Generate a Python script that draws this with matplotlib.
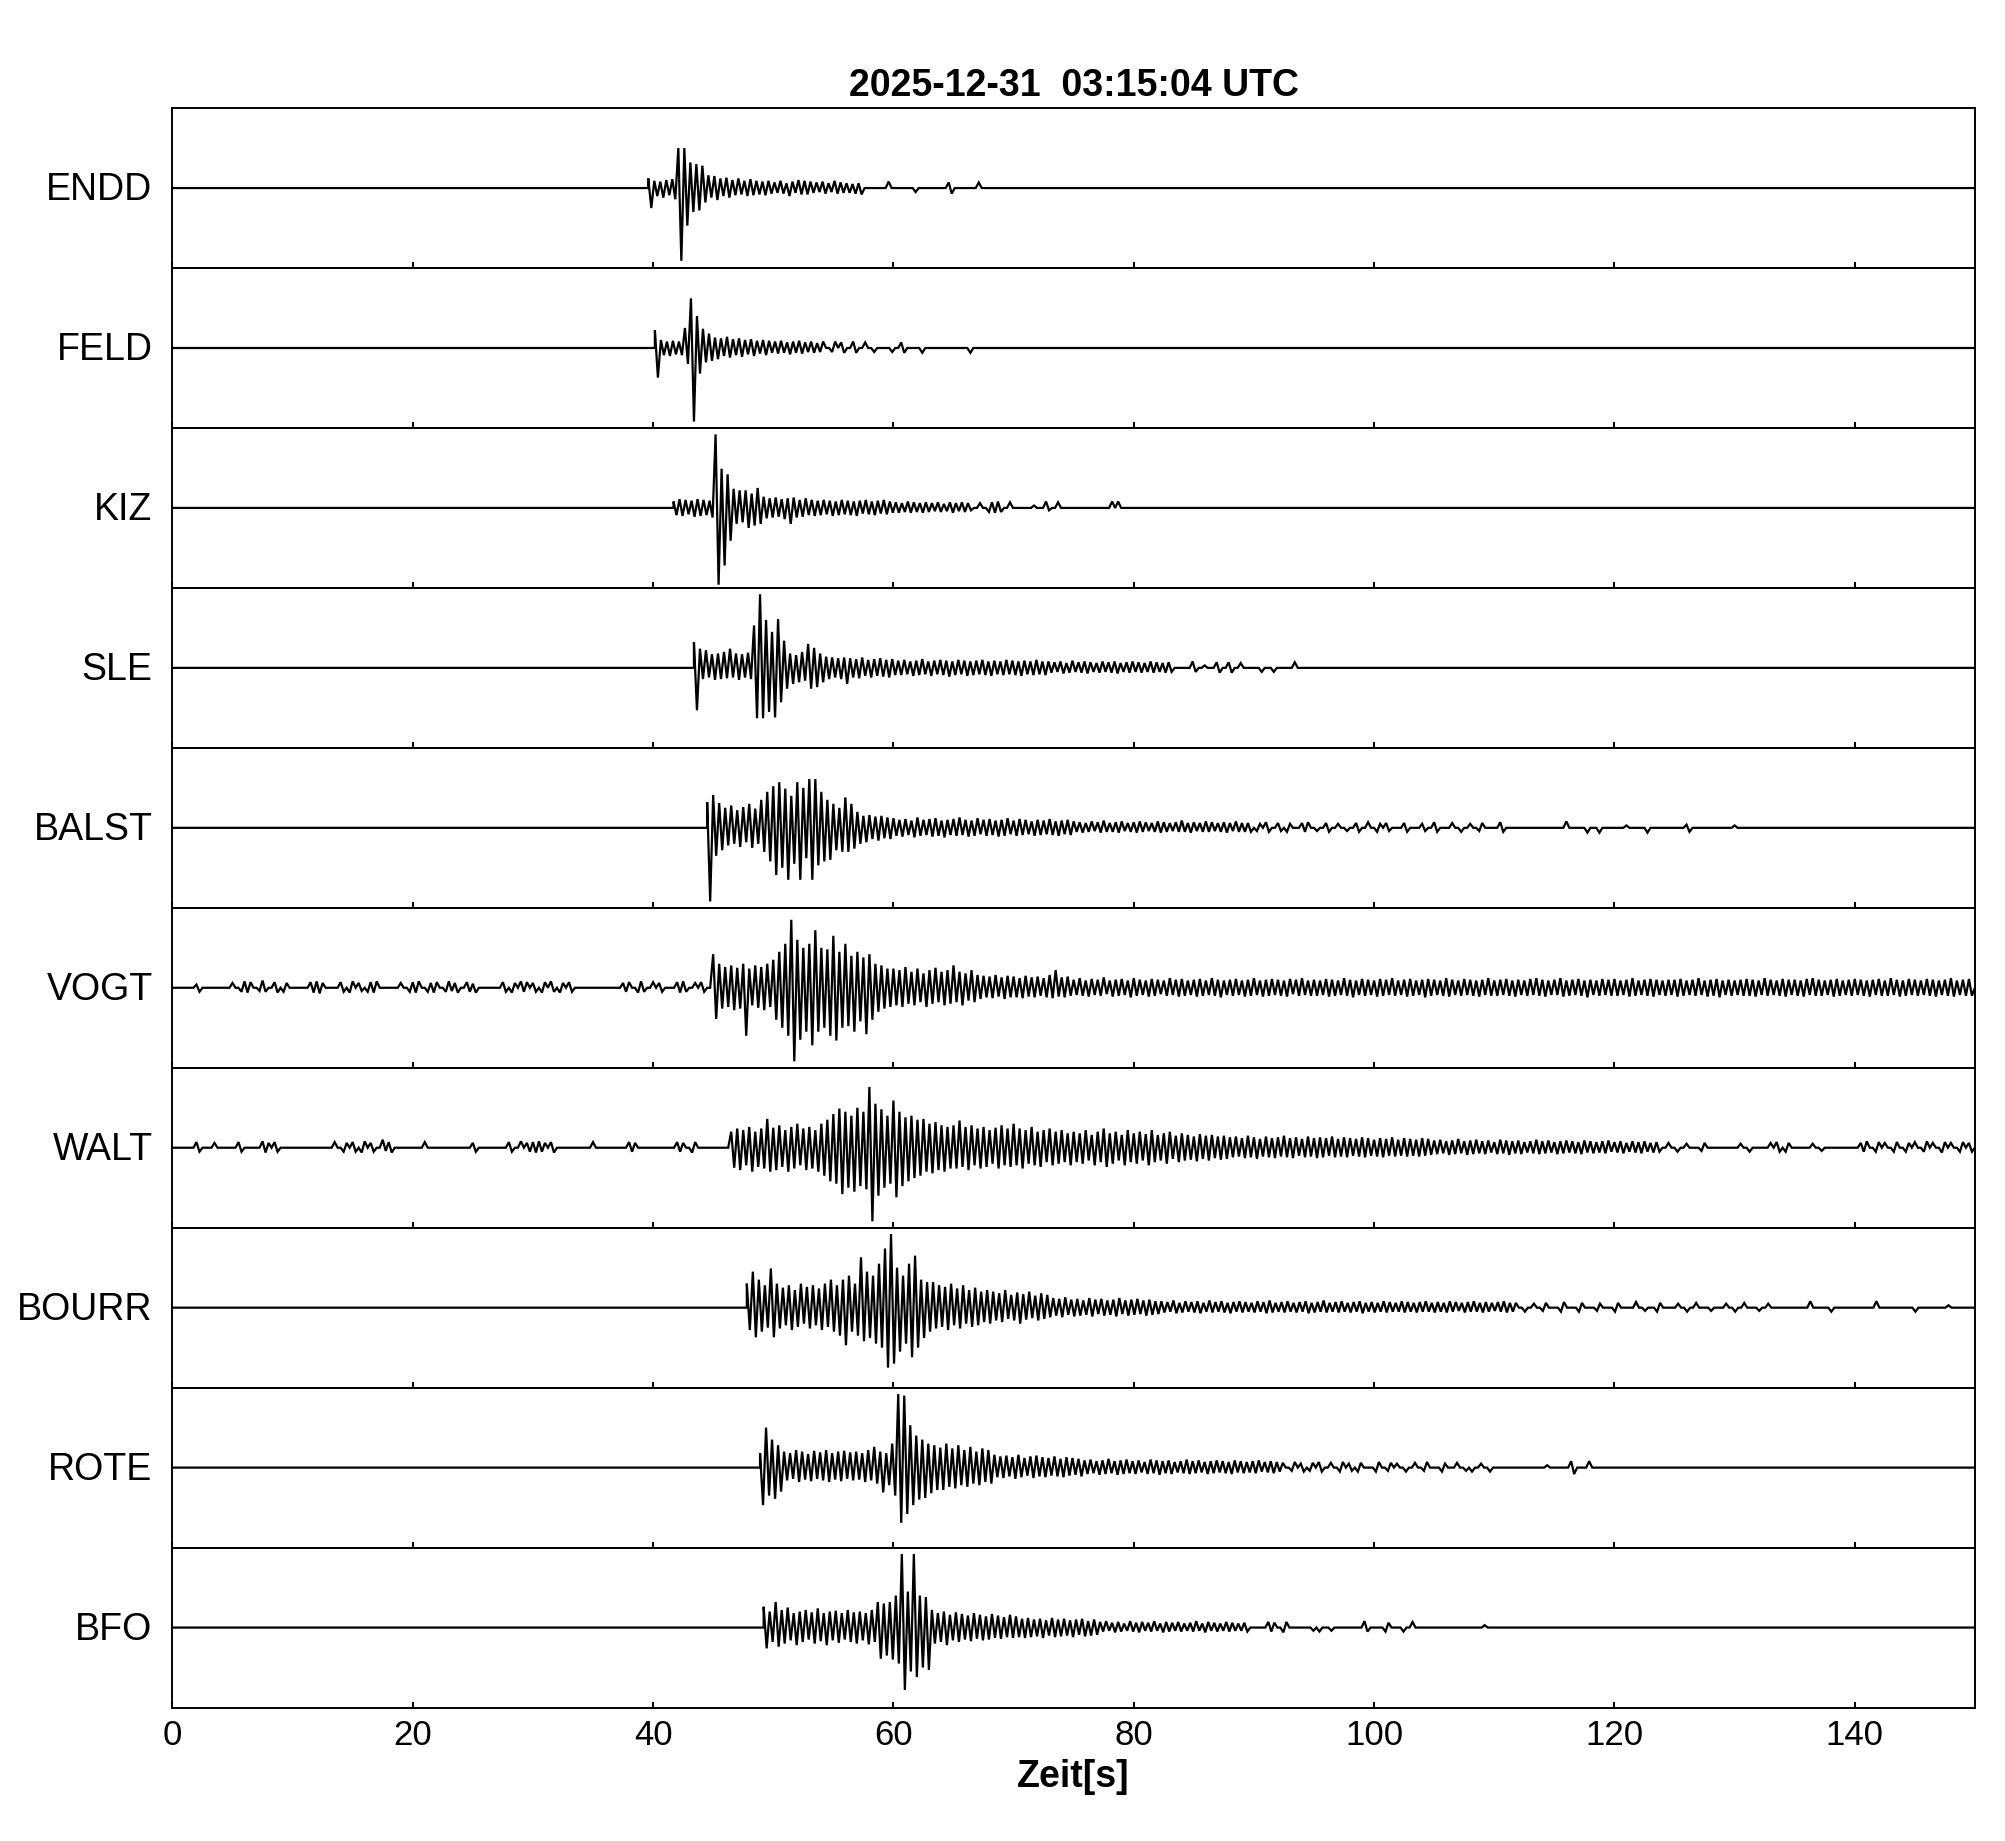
import numpy as np
import matplotlib
matplotlib.use("Agg")
import matplotlib.pyplot as plt

plt.rcParams['font.family'] = ['Liberation Sans', 'DejaVu Sans']

# ---------------- data (amplitudes in % of half panel height, min/max per 0.5 s bin) -------------
TITLE = "2025-12-31  03:15:04 UTC"
XLABEL = "Zeit[s]"
XTICKS = [0, 20, 40, 60, 80, 100, 120, 140]
STATIONS = ["ENDD", "FELD", "KIZ", "SLE", "BALST", "VOGT", "WALT", "BOURR", "ROTE", "BFO"]
DT = 0.5

ENDD_T0 = 39.6
ENDD_HI = [12, 9, 8, 10, 11, 50, 50, 32, 30, 28, 16, 15, 12, 13, 10, 12, 9, 11, 9, 8,
           9, 7, 9, 6, 8, 10, 9, 8, 7, 8, 6, 9, 7, 6, 5, 6, 0, 0, 0, 0,
           8, 0, 0, 0, 0, 0, 0, 0, 0, 0, 7, 0, 0, 0, 0, 7]
ENDD_LO = [25, 10, 12, 9, 14, 91, 47, 30, 28, 18, 12, 15, 10, 12, 9, 8, 10, 9, 8, 9,
           7, 6, 7, 10, 6, 8, 8, 6, 5, 7, 5, 7, 6, 6, 7, 8, 0, 0, 0, 0,
           0, 0, 0, 0, 5, 0, 0, 0, 0, 0, 7, 0, 0, 0, 0, 0]

FELD_T0 = 40.15
FELD_HI = [22, 10, 8, 9, 8, 25, 62, 40, 24, 18, 13, 12, 14, 11, 12, 10, 11, 9, 10, 9,
           8, 9, 7, 8, 9, 7, 8, 6, 8, 0, 8, 7, 0, 8, 0, 7, 0, 0, 0, 0,
           0, 7, 0, 0, 0, 0, 0, 0, 0, 0, 0, 0, 0]
FELD_LO = [37, 9, 10, 8, 9, 20, 92, 32, 18, 16, 14, 10, 12, 9, 11, 8, 10, 7, 9, 6,
           7, 6, 8, 6, 7, 5, 6, 5, 0, 5, 0, 6, 0, 6, 0, 0, 5, 0, 0, 5,
           0, 6, 0, 0, 6, 0, 0, 0, 0, 0, 0, 0, 6]

KIZ_T0 = 41.7
KIZ_HI = [8, 11, 10, 9, 11, 10, 9, 92, 49, 42, 24, 22, 22, 18, 25, 14, 12, 13, 11, 12,
          13, 10, 12, 10, 9, 10, 9, 8, 10, 9, 8, 9, 10, 8, 9, 10, 8, 7, 6, 8,
          7, 6, 7, 6, 7, 5, 7, 6, 7, 6, 0, 6, 0, 7, 8, 0, 7, 0, 0, 0,
          3, 0, 8, 0, 7, 0, 0, 0, 0, 0, 0, 0, 0, 8, 8]
KIZ_LO = [9, 10, 8, 11, 10, 9, 12, 96, 72, 41, 20, 18, 25, 22, 20, 13, 12, 11, 14, 20,
          12, 11, 9, 10, 9, 8, 10, 9, 8, 9, 10, 7, 8, 9, 7, 8, 6, 6, 5, 6,
          5, 6, 5, 4, 5, 4, 6, 4, 5, 3, 0, 0, 5, 6, 5, 0, 0, 0, 0, 0,
          0, 0, 3, 0, 0, 0, 0, 0, 0, 0, 0, 0, 0, 0, 0]

SLE_T0 = 43.4
SLE_HI = [32, 24, 22, 17, 18, 20, 24, 18, 17, 19, 53, 92, 60, 45, 61, 34, 18, 16, 20, 30,
          25, 18, 14, 13, 12, 13, 12, 11, 13, 10, 11, 12, 10, 11,
          9, 10, 8, 9, 11, 8, 9, 10, 9, 8, 10, 9, 8, 9, 10, 8, 9, 8, 10, 9, 8, 9, 8, 10, 8,
          8, 7, 8, 6, 9, 7, 8, 7, 6, 8, 7, 8, 6, 7, 8, 7, 6, 8, 7, 6, 7,
          0, 0, 0, 8, 0, 3, 0, 7, 0, 7, 0, 6, 0, 0, 0, 0, 0, 0, 0, 0, 7]
SLE_LO = [53, 14, 12, 15, 14, 13, 12, 15, 12, 14, 63, 63, 55, 62, 43, 26, 20, 18, 16, 26,
          24, 18, 14, 12, 14, 20, 12, 13, 10, 12, 10, 11, 12, 9,
          9, 8, 10, 9, 8, 10, 8, 9, 11, 9, 8, 10, 9, 8, 9, 10, 8, 9, 8, 9, 10, 8, 9, 8, 9,
          6, 5, 7, 6, 5, 6, 7, 5, 6, 5, 6, 7, 5, 6, 5, 6, 5, 6, 5, 6, 5,
          0, 0, 0, 5, 0, 0, 0, 6, 0, 6, 0, 0, 0, 0, 5, 0, 5, 0, 0, 0, 0]

BALST_T0 = 44.5
BALST_HI = [32, 41, 31, 25, 28, 22, 26, 30, 24, 35, 45, 52, 57, 49, 40, 57, 50, 61, 61, 45,
            35, 30, 25, 38, 30, 20, 15, 16, 14, 15, 13,
            12, 10, 11, 9, 13, 10, 11, 12, 9, 10, 11, 13, 10, 9, 12, 10, 11, 9, 10, 12,
            9, 11, 10, 8, 10, 9, 11, 8, 9, 10,
            8, 7, 6, 8, 7, 9, 6, 7, 8, 6, 7, 8, 7, 6, 8, 7, 6, 7, 9, 6,
            7, 6, 8, 7, 6, 7, 6, 8, 6,
            6, 0, 5, 7, 0, 6, 0, 5, 0, 6, 7, 0, 0, 6, 0, 5, 0, 0, 6, 0,
            7, 0, 5, 6, 0, 0, 6, 0, 0, 5, 0, 7, 0, 0, 6, 0, 0, 5, 0, 6, 0, 0, 7, 0,
            0, 0, 0, 0, 0, 0, 0, 0, 0, 8, 0, 0, 0, 0, 0, 0, 0, 0, 0, 3,
            0, 0, 0, 0, 0, 0, 0, 0, 0, 4, 0, 0, 0, 0, 0, 0, 0, 3, 0]
BALST_LO = [92, 35, 28, 22, 20, 24, 18, 25, 20, 30, 42, 59, 50, 65, 45, 65, 38, 65, 47, 42,
            40, 28, 30, 30, 26, 20, 18, 14, 16, 13, 14,
            10, 11, 9, 12, 10, 9, 11, 10, 12, 9, 10, 9, 11, 10, 8, 10, 9, 11, 10, 8,
            10, 9, 8, 10, 9, 8, 9, 10, 8, 9,
            5, 6, 5, 4, 6, 5, 5, 6, 4, 5, 6, 5, 4, 5, 6, 5, 4, 5, 5, 6,
            4, 5, 5, 4, 5, 6, 4, 5, 5,
            5, 4, 0, 5, 0, 4, 5, 0, 0, 5, 0, 4, 0, 5, 0, 0, 4, 0, 5, 0,
            0, 5, 0, 4, 0, 0, 5, 0, 0, 4, 0, 5, 0, 0, 0, 5, 0, 0, 4, 0, 0, 0, 5, 0,
            0, 0, 0, 0, 0, 0, 0, 0, 0, 0, 0, 0, 6, 0, 6, 0, 0, 0, 0, 0,
            0, 0, 6, 0, 0, 0, 0, 0, 0, 5, 0, 0, 0, 0, 0, 0, 0, 0, 0]

VOGT_T0 = 0.0
VOGT_HI = [0, 0, 0, 0, 4, 0, 0, 0, 0, 0, 6, 0, 8, 7, 0, 9, 0, 7, 0, 6,
           0, 0, 0, 7, 8, 6, 0, 0, 7, 0, 8, 6, 0, 7, 8, 0, 0, 0, 6, 0,
           7, 8, 0, 6, 7, 0, 8, 6, 0, 7, 5, 0, 0, 0, 0, 7, 0, 6, 8, 7,
           6, 0, 7, 8, 0, 6, 7, 0, 0, 0, 0, 0, 0, 0, 0, 6, 7, 0, 8, 0,
           7, 6, 0, 0, 7, 8, 0, 6, 7, 0,
           42, 30, 26, 28, 25, 30, 24, 28, 26, 30,
           35, 45, 55, 85, 60, 50, 55, 72, 50, 48, 65, 45, 55, 40, 45, 38, 42, 30, 28, 24,
           24, 22, 26, 20, 24, 18, 22, 25, 20, 22, 28, 20, 18, 22, 16, 15, 14, 16, 13, 15,
           14, 12, 15, 13, 14, 12, 16, 22, 13, 14,
           10, 12, 9, 11, 10, 13, 9, 10, 11, 9, 12, 10, 9, 11, 10, 9, 12, 10, 11, 9,
           10, 11, 9, 12, 10, 9, 10, 11, 9, 10, 12, 9, 10, 11, 10, 9, 11, 10, 12, 9,
           10, 9, 11, 10, 9, 12, 10, 9, 11, 10, 9, 11, 10, 12, 9, 10, 11, 9, 10, 11,
           10, 9, 12, 10, 9, 11, 10, 9, 10, 12, 9, 10, 11, 9, 10, 9, 11, 12, 10, 9,
           10, 12, 9, 10, 11, 9, 10, 9, 11, 10, 11, 9, 10, 12, 9, 10, 11, 10, 9, 10,
           10, 11, 9, 10, 12, 9, 10, 11, 9, 10, 9, 10, 11, 10, 9, 12, 10, 9, 11, 10,
           10, 9, 11, 12, 10, 9, 10, 11, 9, 10, 11, 10, 9, 10, 11, 9, 12, 10, 9, 11,
           10, 9, 11, 10, 9, 10, 12, 9, 10, 11]
VOGT_LO = [0, 0, 0, 0, 5, 0, 0, 0, 0, 0, 0, 5, 6, 0, 4, 5, 0, 6, 5, 0,
           0, 0, 0, 6, 7, 0, 0, 0, 5, 6, 0, 4, 5, 6, 0, 0, 0, 0, 0, 5,
           6, 0, 5, 6, 0, 5, 4, 6, 0, 5, 6, 0, 0, 0, 0, 5, 6, 0, 5, 0,
           5, 6, 0, 5, 6, 0, 5, 0, 0, 0, 0, 0, 0, 0, 0, 5, 0, 6, 5, 0,
           0, 5, 0, 0, 6, 5, 0, 0, 5, 0,
           39, 26, 24, 28, 26, 60, 22, 25, 28, 24,
           40, 50, 60, 92, 65, 55, 72, 55, 50, 60, 66, 50, 48, 55, 42, 58, 40, 30, 26, 24,
           22, 24, 20, 22, 18, 24, 20, 18, 22, 20, 18, 22, 16, 18, 14, 12, 13, 11, 14, 12,
           12, 13, 11, 12, 10, 12, 13, 11, 12, 10,
           9, 10, 11, 9, 10, 8, 11, 10, 9, 12, 10, 9, 11, 10, 8, 10, 9, 11, 10, 9,
           11, 10, 9, 10, 12, 9, 10, 9, 11, 10, 9, 11, 10, 9, 10, 11, 8, 10, 9, 10,
           10, 9, 11, 10, 9, 10, 12, 9, 10, 9, 11, 10, 9, 10, 9, 11, 10, 9, 12, 10,
           9, 10, 11, 9, 10, 9, 10, 11, 9, 10, 10, 9, 10, 11, 9, 10, 9, 10, 11, 9,
           9, 11, 10, 9, 10, 12, 9, 10, 9, 10, 10, 9, 11, 10, 9, 10, 11, 9, 10, 9,
           11, 10, 9, 10, 9, 11, 10, 12, 9, 10, 9, 10, 10, 11, 9, 10, 9, 10, 11, 9,
           10, 11, 9, 10, 10, 9, 11, 10, 9, 10, 9, 10, 11, 9, 10, 10, 9, 11, 10, 9,
           10, 9, 10, 11, 9, 10, 11, 9, 10, 10]

WALT_T0 = 0.0
WALT_HI = [0, 0, 0, 0, 7, 0, 0, 6, 0, 0, 0, 7, 0, 0, 0, 8, 6, 7, 0, 0,
           0, 0, 0, 0, 0, 0, 0, 7, 0, 6, 7, 0, 8, 6, 0, 10, 7, 0, 0, 0,
           0, 0, 7, 0, 0, 0, 0, 0, 0, 0, 6, 0, 0, 0, 0, 0, 7, 0, 8, 6,
           7, 8, 6, 7, 0, 0, 0, 0, 0, 0, 7, 0, 0, 0, 0, 0, 7, 6, 0, 0,
           0, 0, 0, 0, 7, 6, 0, 7, 0, 0, 0, 0, 0,
           20, 24, 22, 26, 20, 24, 36,
           25, 28, 22, 26, 30, 24, 26, 22, 30, 35,
           42, 49, 45, 40, 50, 45, 76, 55, 48, 40, 59, 45, 38, 40, 35, 36, 30, 32, 28, 26,
           28, 34, 26, 28, 24, 26, 22, 25, 28, 24, 30, 24, 22, 26, 20, 22, 24, 20, 22, 18,
           20, 18, 22, 16, 20, 24, 18, 20, 16, 22, 18, 20, 17, 22, 16, 18, 20, 15, 18, 16,
           14, 17, 15, 16, 14, 15,
           13, 14, 12, 15, 13, 11, 14, 12, 13, 15, 12, 13, 11, 14, 12, 13, 12, 14, 11, 13,
           12, 11, 13, 12, 10, 12, 11, 13, 10, 12, 11, 10, 12, 11,
           9, 10, 8, 9, 11, 8, 9, 10, 8, 9, 7, 10, 9, 8, 9, 7, 8, 10, 8, 9,
           7, 8, 9, 8, 7, 9, 8, 7, 8, 9, 7, 8, 6, 8, 7, 8, 6, 7,
           0, 6, 0, 0, 5, 0, 0, 6, 0, 0, 0, 0, 0, 5, 0, 0, 0, 0, 6, 7,
           0, 6, 0, 0, 0, 5, 0, 0, 0, 0, 0, 0, 0, 6, 8, 0, 7, 6, 0, 7,
           0, 6, 7, 0, 8, 6, 0, 7, 6, 0, 7, 6]
WALT_LO = [0, 0, 0, 0, 5, 0, 0, 0, 0, 0, 0, 5, 0, 0, 0, 6, 0, 5, 0, 0,
           0, 0, 0, 0, 0, 0, 0, 0, 5, 0, 5, 6, 0, 5, 0, 4, 6, 0, 0, 0,
           0, 0, 0, 0, 0, 0, 0, 0, 0, 0, 5, 0, 0, 0, 0, 0, 5, 0, 0, 5,
           6, 5, 0, 6, 0, 0, 0, 0, 0, 0, 0, 0, 0, 0, 0, 0, 5, 0, 0, 0,
           0, 0, 0, 0, 5, 0, 6, 0, 0, 0, 0, 0, 0,
           25, 28, 22, 30, 24, 26, 30,
           28, 24, 30, 26, 22, 28, 26, 30, 35, 42,
           45, 58, 50, 55, 48, 52, 92, 60, 50, 45, 62, 48, 42, 38, 35, 30, 32, 28, 30, 26,
           26, 24, 28, 22, 26, 24, 20, 26, 22, 24, 22, 26, 20, 22, 24, 18, 22, 20, 18, 22,
           18, 20, 16, 22, 18, 24, 20, 16, 22, 18, 20, 16, 22, 18, 16, 20, 14, 18, 16, 15,
           17, 14, 16, 13, 15, 14,
           12, 11, 13, 12, 14, 11, 12, 13, 11, 12, 13, 10, 12, 11, 13, 12, 10, 12, 11, 12,
           10, 11, 12, 10, 11, 12, 10, 11, 10, 11, 10, 11, 10, 9,
           8, 7, 9, 8, 7, 9, 8, 7, 8, 6, 8, 7, 9, 7, 8, 6, 7, 8, 7, 6,
           8, 7, 6, 7, 8, 6, 7, 6, 7, 5, 6, 7, 5, 6, 7, 5, 6, 5,
           0, 0, 5, 0, 0, 0, 4, 0, 0, 0, 0, 0, 0, 0, 5, 0, 0, 0, 0, 5,
           5, 0, 0, 0, 0, 0, 4, 0, 0, 0, 0, 0, 0, 5, 0, 5, 0, 0, 5, 0,
           5, 0, 0, 5, 0, 0, 6, 0, 0, 5, 0, 5]

BOURR_T0 = 47.8
BOURR_HI = [30, 45, 35, 28, 49, 30, 25, 28, 22, 30, 26, 28, 24, 30, 35, 28,
            35, 40, 30, 63, 45, 40, 55, 74, 92, 50, 40, 55, 65, 35, 32,
            32, 28, 26, 30, 24, 28, 22, 25, 20, 22,
            20, 18, 22, 16, 19, 17, 20, 15, 18, 16,
            12, 11, 13, 10, 11, 9, 12, 10, 11, 9, 10, 12, 9, 10, 11, 9, 10, 8,
            8, 7, 9, 6, 8, 7, 8, 6, 9, 7, 8, 6, 7, 8, 7, 6, 8, 7, 9, 6,
            7, 8, 6, 7, 8, 6, 7, 9, 6, 7, 8, 6, 7, 8, 6, 7, 6, 8, 7, 6,
            8, 7, 6, 7, 8, 6, 7, 6, 8, 7, 6, 7, 8, 6, 7, 6, 7, 8, 6,
            6, 0, 0, 5, 0, 6, 0, 0, 7, 0, 0, 6, 0, 0, 5, 0, 0, 6, 0, 0,
            7, 0, 0, 0, 6, 0, 0, 5, 0, 0, 6, 0, 0, 0, 0, 5, 0, 0, 6, 0, 0, 0, 5, 0,
            0, 0, 0, 0, 0, 8, 0, 0, 0, 0, 0, 0, 0, 0, 0, 0, 8, 0, 0, 0,
            0, 0, 0, 0, 0, 0, 0, 0, 3]
BOURR_LO = [28, 37, 30, 25, 37, 26, 22, 28, 24, 20, 26, 22, 28, 24, 30, 35,
            47, 30, 35, 42, 38, 45, 50, 75, 70, 55, 45, 62, 50, 38, 30,
            26, 24, 28, 22, 26, 20, 24, 22, 18, 20,
            16, 18, 14, 16, 20, 15, 13, 16, 14, 12,
            10, 12, 9, 11, 10, 9, 11, 8, 10, 9, 11, 8, 10, 9, 8, 10, 9, 8,
            6, 5, 7, 6, 5, 6, 7, 5, 6, 5, 6, 7, 5, 6, 5, 6, 5, 7, 6, 5,
            6, 5, 6, 5, 7, 6, 5, 6, 5, 6, 5, 6, 5, 7, 5, 6, 5, 6, 5, 5,
            6, 5, 6, 5, 5, 6, 5, 6, 5, 4, 6, 5, 5, 6, 5, 4, 5, 6, 5,
            0, 5, 0, 0, 4, 0, 0, 5, 0, 0, 5, 0, 0, 4, 0, 0, 5, 0, 0, 0,
            0, 4, 0, 5, 0, 0, 0, 0, 5, 0, 0, 0, 4, 0, 0, 0, 5, 0, 0, 0, 4, 0, 0, 0,
            0, 0, 0, 0, 0, 0, 0, 0, 5, 0, 0, 0, 0, 0, 0, 0, 0, 0, 0, 0,
            0, 0, 5, 0, 0, 0, 0, 0, 0]

ROTE_T0 = 48.9
ROTE_HI = [18, 50, 35, 28,
           20, 18, 22, 20, 17, 21, 19, 22, 18, 20, 21, 19, 20, 18, 22, 26, 20, 18,
           30, 92, 90, 53, 40, 35, 30, 28,
           25, 30, 24, 28, 22, 26, 20, 24, 22,
           16, 14, 15, 13, 16, 12, 14, 15, 13, 12, 14, 11, 13, 12, 11,
           9, 10, 8, 9, 11, 8, 9, 10, 8, 9, 7, 10, 9, 8, 9, 7, 8, 10, 8, 9,
           7, 8, 9, 8, 7, 9, 8, 7, 8, 9, 7, 8,
           7, 6, 0, 7, 5, 0, 6, 7, 0, 6, 0, 7, 5, 0, 6, 0, 0, 7, 0, 6,
           5, 0, 0, 6, 0, 7, 0, 0, 5, 0, 6, 0, 0, 0, 5, 0, 0, 0,
           0, 0, 0, 0, 0, 0, 0, 3, 0, 0, 0, 8, 0, 0, 8]
ROTE_LO = [47, 35, 39, 30,
           16, 14, 18, 15, 17, 14, 16, 18, 15, 17, 14, 16, 15, 18, 16, 20, 31, 22,
           35, 69, 58, 47, 40, 38, 32, 28,
           28, 24, 26, 22, 24, 20, 22, 18, 20,
           12, 13, 11, 14, 12, 10, 13, 11, 12, 10, 11, 12, 10, 9, 11,
           8, 7, 9, 8, 7, 9, 8, 7, 8, 6, 8, 7, 9, 7, 8, 6, 7, 8, 7, 6,
           8, 7, 6, 7, 8, 6, 7, 6, 7, 5, 6, 7,
           5, 0, 4, 0, 5, 4, 0, 5, 0, 0, 5, 0, 4, 5, 0, 0, 5, 0, 4, 0,
           0, 5, 0, 0, 4, 0, 0, 5, 0, 0, 0, 4, 5, 0, 0, 5, 0, 0,
           0, 0, 0, 0, 0, 0, 0, 0, 0, 0, 0, 8, 0, 0, 0]

BFO_T0 = 49.2
BFO_HI = [26, 20, 32, 22, 25, 18, 20, 22, 19, 24, 18, 20, 21, 18, 22, 19, 20, 18, 22,
          32, 30, 32, 40, 92, 45, 92, 40, 38,
          22, 18, 20, 16, 19, 17, 15, 18, 16, 14, 17, 15, 13, 16, 14,
          11, 12, 10, 11, 9, 12, 10, 11, 9, 10, 11, 8, 10,
          7, 8, 6, 7, 5, 8, 6, 7, 6, 8, 5, 7, 6, 7, 5, 6, 8, 5, 7, 6, 5, 7, 6, 5, 6,
          0, 0, 0, 7, 6, 0, 7, 0, 0, 0, 0, 0, 0, 0, 0, 0, 0, 0, 0, 8,
          0, 0, 0, 6, 0, 0, 0, 7, 0, 0, 0, 0, 0, 0, 0, 0, 0, 0, 0, 3]
BFO_LO = [26, 18, 24, 20, 16, 22, 18, 15, 20, 17, 22, 16, 19, 15, 18, 20, 16, 21, 18,
          39, 35, 40, 45, 78, 55, 62, 50, 53,
          20, 18, 22, 16, 18, 15, 17, 14, 16, 15, 13, 14, 12, 13, 12,
          13, 12, 11, 13, 10, 12, 11, 10, 12, 9, 11, 10, 9,
          5, 4, 6, 5, 4, 5, 6, 4, 5, 4, 6, 5, 4, 5, 4, 5, 4, 6, 4, 5, 4, 5, 4, 4, 5,
          0, 0, 0, 5, 0, 6, 0, 0, 0, 0, 4, 5, 0, 4, 0, 0, 0, 0, 0, 5,
          0, 0, 5, 0, 0, 5, 0, 0, 0, 0, 0, 0, 0, 0, 0, 0, 0, 0, 0, 0]

T0S = [ENDD_T0, FELD_T0, KIZ_T0, SLE_T0, BALST_T0, VOGT_T0, WALT_T0, BOURR_T0, ROTE_T0, BFO_T0]
HIS = [ENDD_HI, FELD_HI, KIZ_HI, SLE_HI, BALST_HI, VOGT_HI, WALT_HI, BOURR_HI, ROTE_HI, BFO_HI]
LOS = [ENDD_LO, FELD_LO, KIZ_LO, SLE_LO, BALST_LO, VOGT_LO, WALT_LO, BOURR_LO, ROTE_LO, BFO_LO]

XMAX = 150

# ---------------- figure -------------
fig, axes = plt.subplots(len(STATIONS), 1, figsize=(20.05, 18.41), dpi=100, sharex=True)
fig.subplots_adjust(left=0.086, right=0.985, top=0.9413, bottom=0.0725, hspace=0)

FS = 27
FS_TICK = 25
for ax, name, t0, hi, lo in zip(axes, STATIONS, T0S, HIS, LOS):
    n = min(len(hi), len(lo))
    t = t0 + DT * np.arange(n)
    x = np.empty(2 * n)
    y = np.empty(2 * n)
    x[0::2] = t
    x[1::2] = t + DT / 2
    y[0::2] = np.asarray(hi[:n], dtype=float) / 100.0
    y[1::2] = -np.asarray(lo[:n], dtype=float) / 100.0
    x = np.concatenate([[0.0, t0], x, [x[-1] + DT / 2, XMAX]])
    y = np.concatenate([[0.0, 0.0], y, [0.0, 0.0]])
    ax.plot(x, y, color='black', lw=1.6, solid_joinstyle='miter')
    ax.set_xlim(0, XMAX)
    ax.set_ylim(-1, 1)
    ax.set_yticks([])
    ax.set_xticks(XTICKS)
    ax.tick_params(axis='x', direction='in', length=4.5, width=1.4,
                   bottom=True, top=False, labelbottom=False, labelsize=FS_TICK, pad=8)
    for s in ax.spines.values():
        s.set_linewidth(1.4)
    ax.text(-0.011, 0.485, name, transform=ax.transAxes, ha='right', va='center',
            fontsize=FS)

axes[-1].tick_params(axis='x', labelbottom=True)
axes[-1].set_xlabel(XLABEL, fontsize=FS, fontweight='bold', labelpad=5)
axes[0].set_title(TITLE, fontsize=FS, fontweight='bold', pad=9)

fig.savefig("out.png", dpi=100)
